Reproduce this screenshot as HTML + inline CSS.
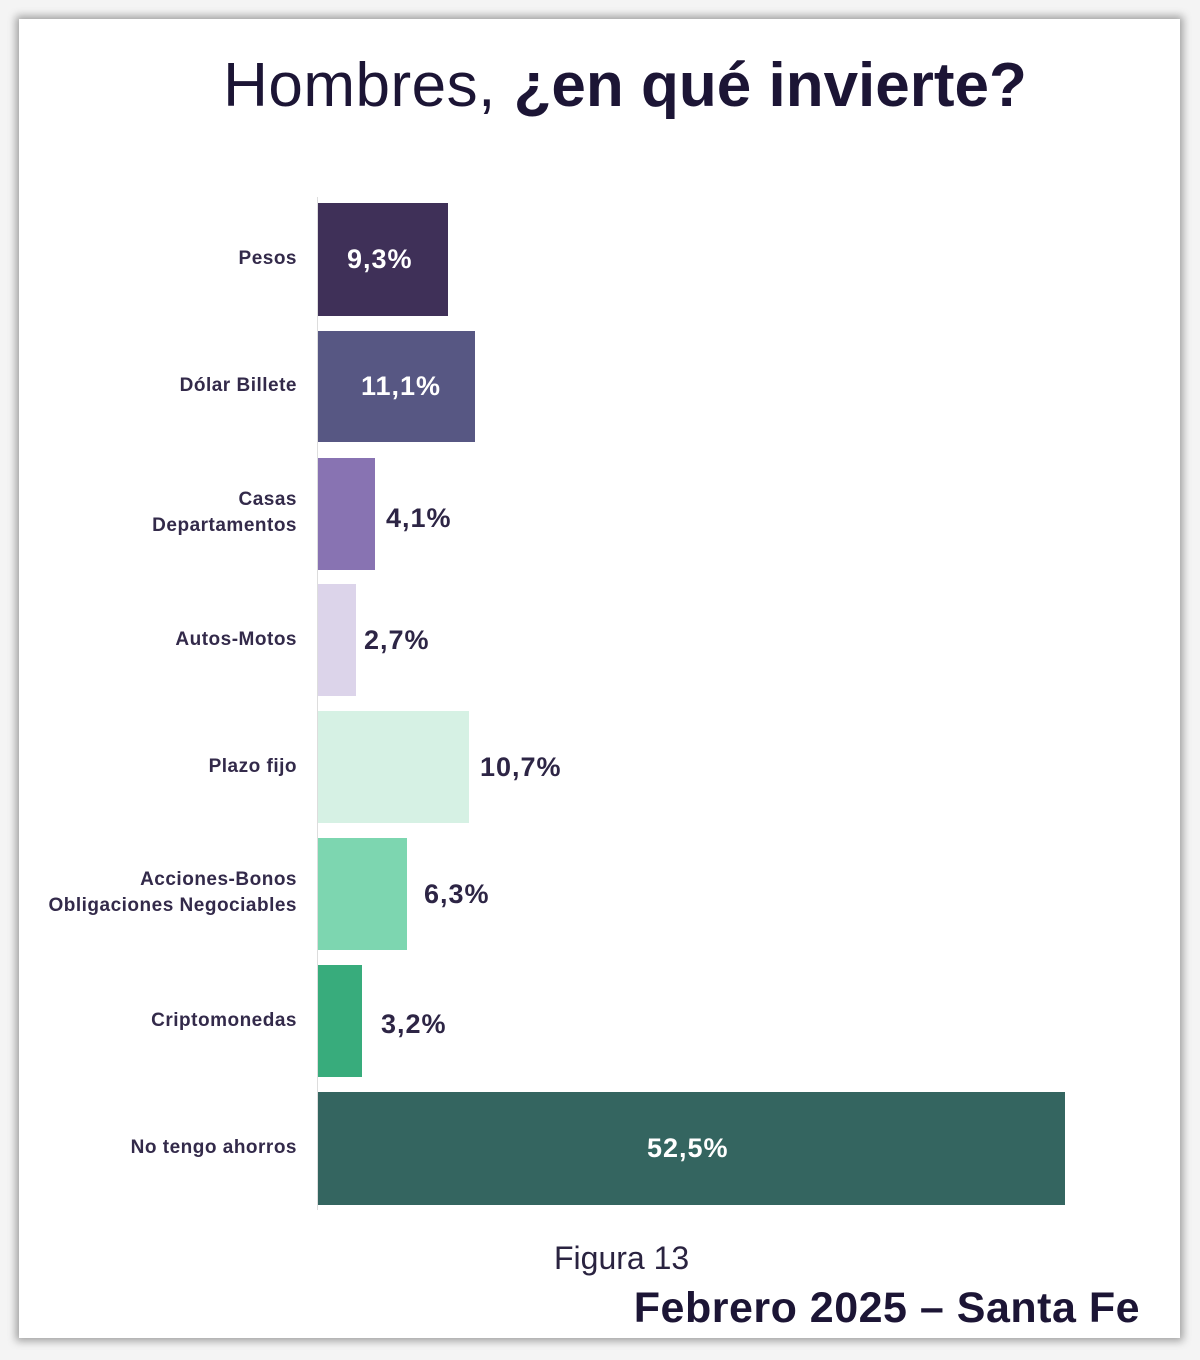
<!DOCTYPE html>
<html><head><meta charset="utf-8"><style>
body{margin:0;width:1200px;height:1360px;background:#f4f4f4;position:relative;overflow:hidden;font-family:"Liberation Sans",sans-serif;color:#221a3a}
.card{position:absolute;left:19px;top:19px;width:1161px;height:1319px;background:#fff;box-shadow:0 0 8px 3px rgba(0,0,0,0.35)}
.t{position:absolute;left:0;top:50px;width:1250px;text-align:center;font-size:62px;color:#1c1535;white-space:nowrap}
.bar{position:absolute;left:318px}
.lab{position:absolute;right:903px;font-size:19px;font-weight:bold;color:#332a4a;text-align:right;line-height:26px;letter-spacing:0.5px}
.v{position:absolute;font-size:27px;font-weight:bold;color:#2d2545;letter-spacing:1px}
.w{color:#fff}
</style></head><body>
<div class="card"></div>
<div class="t"><span style="letter-spacing:0.5px">Hombres, </span><b style="letter-spacing:0px">¿en qué invierte?</b></div>
<div style="position:absolute;left:317px;top:197px;width:1px;height:1013px;background:#ddd"></div>

<div class="bar" style="top:203px;height:113px;width:130px;background:#3f3058"></div>
<div class="bar" style="top:331px;height:111px;width:157px;background:#575783"></div>
<div class="bar" style="top:458px;height:112px;width:57px;background:#8873b2"></div>
<div class="bar" style="top:584px;height:112px;width:38px;background:#dcd4ea"></div>
<div class="bar" style="top:711px;height:112px;width:151px;background:#d6f1e4"></div>
<div class="bar" style="top:838px;height:112px;width:89px;background:#7dd6b0"></div>
<div class="bar" style="top:965px;height:112px;width:44px;background:#38ac7c"></div>
<div class="bar" style="top:1092px;height:113px;width:747px;background:#346560"></div>

<div class="lab" style="top:246px">Pesos</div>
<div class="lab" style="top:373px">Dólar Billete</div>
<div class="lab" style="top:487px">Casas<br>Departamentos</div>
<div class="lab" style="top:627px">Autos-Motos</div>
<div class="lab" style="top:754px">Plazo fijo</div>
<div class="lab" style="top:867px">Acciones-Bonos<br>Obligaciones Negociables</div>
<div class="lab" style="top:1008px">Criptomonedas</div>
<div class="lab" style="top:1135px">No tengo ahorros</div>

<div class="v w" style="left:347px;top:244px">9,3%</div>
<div class="v w" style="left:361px;top:371px">11,1%</div>
<div class="v" style="left:386px;top:503px">4,1%</div>
<div class="v" style="left:364px;top:625px">2,7%</div>
<div class="v" style="left:480px;top:752px">10,7%</div>
<div class="v" style="left:424px;top:879px">6,3%</div>
<div class="v" style="left:381px;top:1009px">3,2%</div>
<div class="v w" style="left:647px;top:1133px">52,5%</div>

<div style="position:absolute;left:554px;top:1240px;font-size:32px;color:#2a2340">Figura 13</div>
<div style="position:absolute;right:60px;top:1284px;font-size:43px;font-weight:bold;color:#1c1535;letter-spacing:0.5px">Febrero 2025 – Santa Fe</div>
</body></html>
